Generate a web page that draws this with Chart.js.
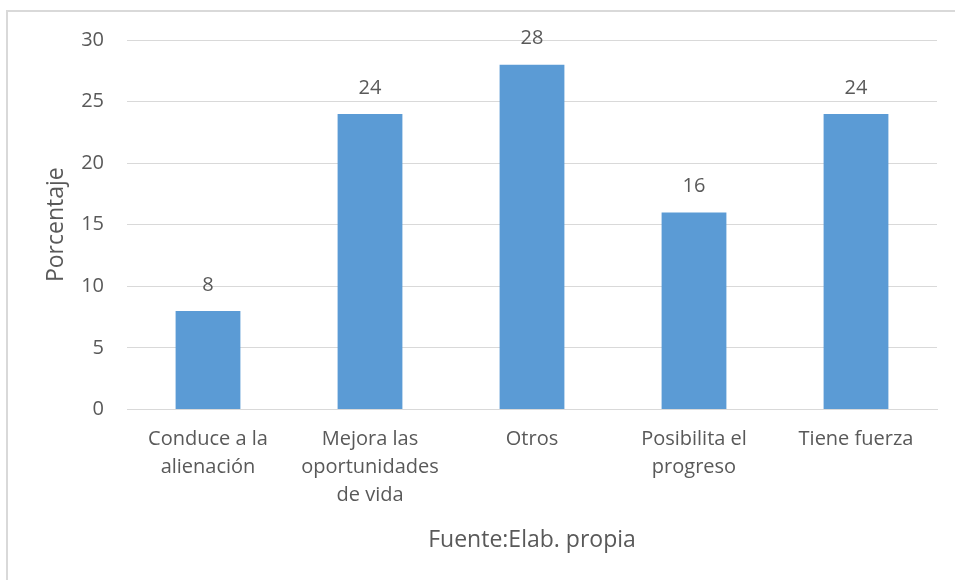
<!DOCTYPE html>
<html>
<head>
<meta charset="utf-8">
<script src="https://cdn.jsdelivr.net/npm/chart.js@4/dist/chart.umd.min.js"></script>
<style>
  html, body { margin: 0; padding: 0; background: #fff; }
  .frame { position: absolute; left: 6px; top: 10px; width: 1000px; height: 1000px;
           border-left: 2px solid #d9d9d9; border-top: 2px solid #d9d9d9; }
  .chart-wrapper { position: absolute; left: 0; top: 0; width: 955px; height: 580px; }
</style>
</head>
<body>
<div class="frame"></div>
<div class="chart-wrapper"><canvas id="chart" width="955" height="580"></canvas></div>
<script>
const categories = [
  ["Conduce a la", "alienación"],
  ["Mejora las", "oportunidades", "de vida"],
  ["Otros"],
  ["Posibilita el", "progreso"],
  ["Tiene fuerza"]
];
const values = [8, 24, 28, 16, 24];
const yTicks = [0, 5, 10, 15, 20, 25, 30];

const textColor = "#595959";
const fontFamily = "'Open Sans', sans-serif";

const barLabels = {
  id: "barLabels",
  afterDatasetsDraw(chart) {
    const { ctx } = chart;
    const meta = chart.getDatasetMeta(0);
    ctx.save();
    ctx.fillStyle = textColor;
    ctx.font = "20px " + fontFamily;
    ctx.textAlign = "center";
    ctx.textBaseline = "middle";
    meta.data.forEach((bar, i) => {
      ctx.fillText(values[i], bar.x, bar.y - 26);
    });
    ctx.restore();
  }
};

const ctx = document.getElementById("chart");

new Chart(ctx, {
  type: "bar",
  data: {
    labels: categories,
    datasets: [
      {
        label: "Porcentaje",
        data: values,
        backgroundColor: "#5b9bd5",
        borderWidth: 0,
        barPercentage: 0.4,
        categoryPercentage: 1,
      },
    ],
  },
  options: {
    responsive: false,
    animation: false,
    layout: { padding: { left: 43, right: 18, top: 40, bottom: 22 } },
    plugins: {
      legend: { display: false },
      tooltip: { enabled: false },
    },
    scales: {
      x: {
        grid: { display: false, drawTicks: false },
        border: { color: "#d9d9d9", width: 1 },
        ticks: {
          color: textColor,
          font: { family: fontFamily, size: 20, lineHeight: 1.4 },
          maxRotation: 0,
          autoSkip: false,
          padding: 16,
        },
        title: {
          display: true,
          text: "Fuente:Elab. propia",
          color: textColor,
          font: { family: fontFamily, size: 23 },
          padding: { top: 1 },
        },
      },
      y: {
        min: 0,
        max: 30,
        afterBuildTicks: (axis) => { axis.ticks = yTicks.map((v) => ({ value: v })); },
        afterFit: (axis) => { axis.width = 84; },
        grid: { color: "#d9d9d9", drawTicks: false },
        border: { display: false },
        ticks: {
          color: textColor,
          font: { family: fontFamily, size: 20 },
          padding: 23,
        },
        title: {
          display: true,
          text: "Porcentaje",
          color: textColor,
          font: { family: fontFamily, size: 23 },
          padding: { top: 0, bottom: 12 },
        },
      },
    },
  },
  plugins: [barLabels],
});
</script>
</body>
</html>
